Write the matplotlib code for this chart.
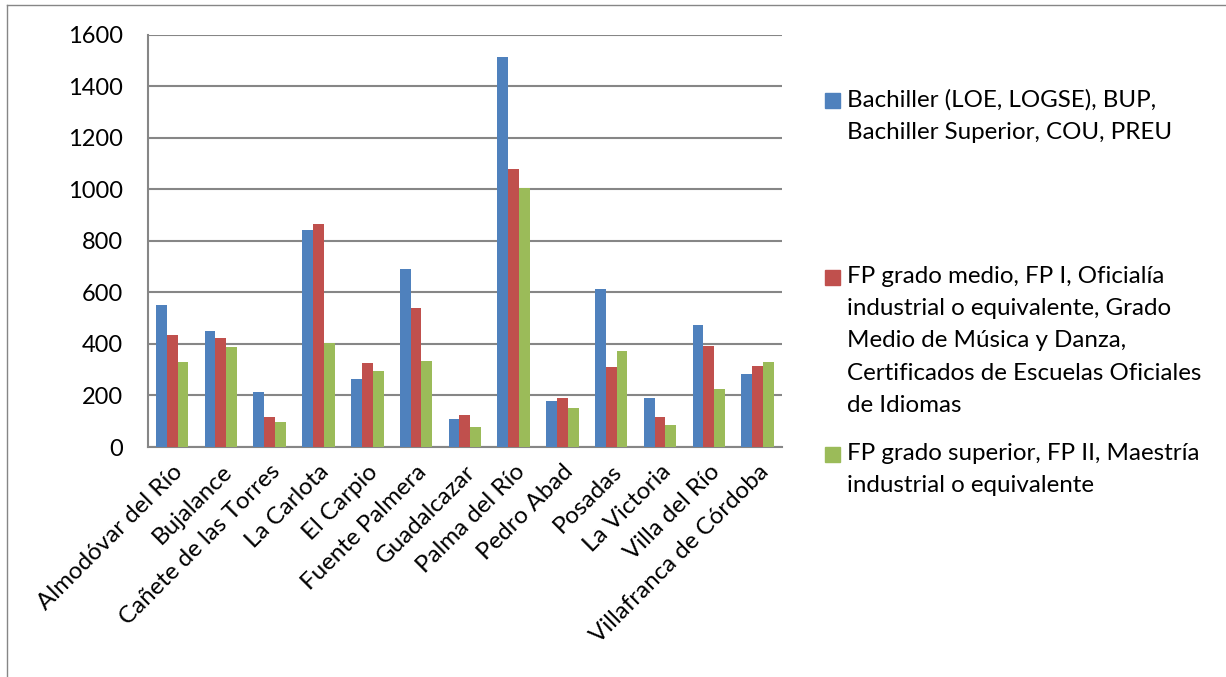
import matplotlib
matplotlib.use("Agg")
import matplotlib.pyplot as plt
import numpy as np
from matplotlib.patches import Rectangle
from matplotlib.lines import Line2D

plt.rcParams['font.family'] = ['Lato', 'DejaVu Sans']

categories = ["Almodóvar del Río", "Bujalance", "Cañete de las Torres", "La Carlota",
              "El Carpio", "Fuente Palmera", "Guadalcazar", "Palma del Río",
              "Pedro Abad", "Posadas", "La Victoria", "Villa del Río",
              "Villafranca de Córdoba"]
bachiller = [551, 450, 213, 842, 264, 691, 109, 1514, 179, 613, 190, 473, 283]
fp_medio = [435, 423, 116, 865, 326, 539, 124, 1079, 190, 310, 116, 392, 314]
fp_superior = [330, 388, 97, 404, 295, 334, 78, 1005, 151, 373, 85, 225, 330]
series_labels = ["Bachiller (LOE, LOGSE), BUP,\nBachiller Superior, COU, PREU",
                 "FP grado medio, FP I, Oficialía\nindustrial o equivalente, Grado\nMedio de Música y Danza,\nCertificados de Escuelas Oficiales\nde Idiomas",
                 "FP grado superior, FP II, Maestría\nindustrial o equivalente"]
colors = ["#4F81BD", "#C0504D", "#9BBB59"]
yticks = [0, 200, 400, 600, 800, 1000, 1200, 1400, 1600]

W, H = 1226, 677
fig = plt.figure(figsize=(W / 100, H / 100), dpi=100)
ax = fig.add_axes([147.7 / W, 1 - 447 / H, (782 - 147.7) / W, (447 - 34.7) / H])

x = np.arange(len(categories))
bw = 0.222
data = [bachiller, fp_medio, fp_superior]
for i, (vals, c) in enumerate(zip(data, colors)):
    ax.bar(x + (i - 1) * bw, vals, width=bw, color=c, zorder=3)

ax.set_xlim(-0.5, len(categories) - 0.5)
ax.set_ylim(0, 1600)
ax.set_yticks(yticks)
ax.set_yticklabels([str(t) for t in yticks], fontsize=17, color='#000000')
ax.yaxis.grid(True, color='#868686', linewidth=1.5, zorder=0)
ax.set_axisbelow(True)
ax.tick_params(axis='y', length=0, pad=18)
ax.tick_params(axis='x', length=0, pad=10)
ax.set_xticks(x)
ax.set_xticklabels(categories, rotation=45, ha='right', rotation_mode='anchor',
                   fontsize=17.4)
for s in ['top', 'right']:
    ax.spines[s].set_visible(False)
for s in ['left', 'bottom']:
    ax.spines[s].set_color('#868686')
    ax.spines[s].set_linewidth(1.5)

# legend
legend_y = [100, 277, 454]  # first line center (px)
for lab, c, yy in zip(series_labels, colors, legend_y):
    fig.patches.append(Rectangle((825 / W, 1 - (yy + 8) / H), 15 / W, 15 / H,
                                 transform=fig.transFigure, color=c))
    fig.text(847 / W, 1 - (yy - 11) / H, lab, fontsize=17.4, va='top', ha='left',
             linespacing=1.66)

# chart border
fig.lines.append(Line2D([7 / W, 7 / W], [0, 1 - 5 / H], transform=fig.transFigure,
                        color='#868686', linewidth=1))
fig.lines.append(Line2D([7 / W, 1], [1 - 5 / H, 1 - 5 / H], transform=fig.transFigure,
                        color='#868686', linewidth=1))

fig.savefig("out.png", dpi=100)
